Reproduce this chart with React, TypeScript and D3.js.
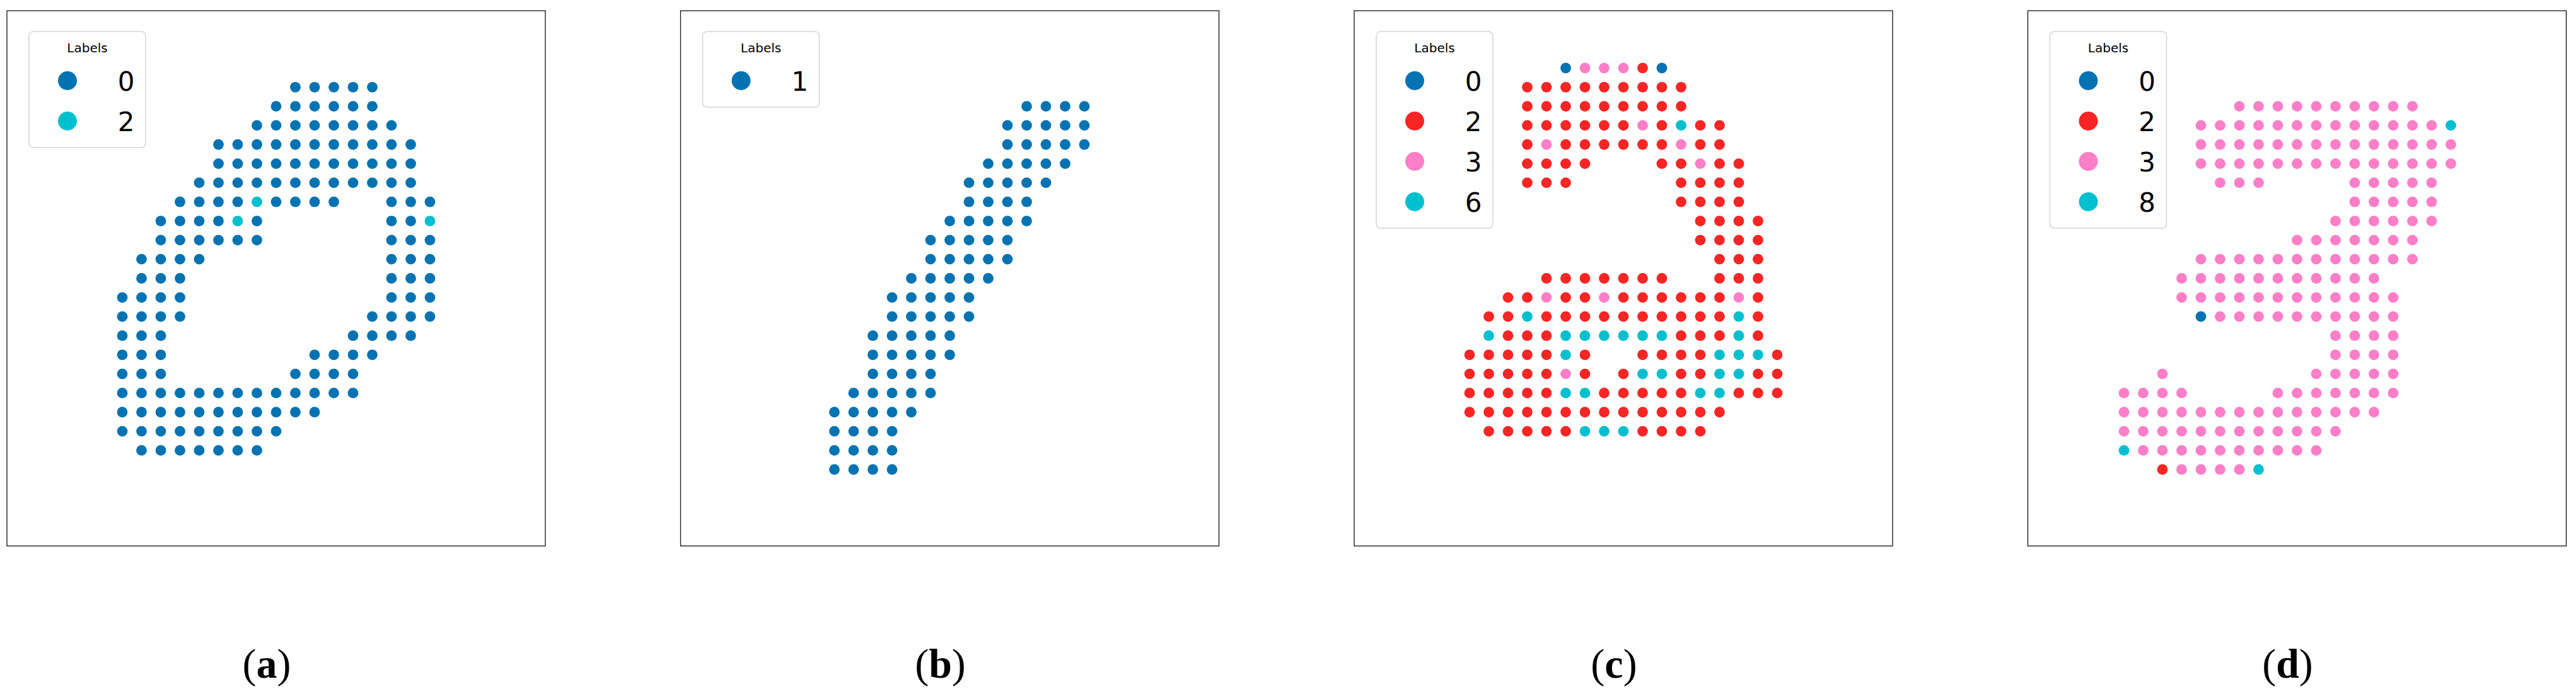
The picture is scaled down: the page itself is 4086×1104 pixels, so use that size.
import React from "react";
import * as d3 from "d3";

// each run: [row, firstCol, lastCol, label] on the 28x28 pixel grid
const runsA = [
  [4, 15, 19, 0], [5, 14, 19, 0], [6, 13, 20, 0], [7, 11, 21, 0], [8, 11, 21, 0], [9, 10, 21, 0],
  [10, 9, 12, 0], [10, 13, 13, 2], [10, 14, 17, 0], [10, 20, 22, 0],
  [11, 8, 11, 0], [11, 12, 12, 2], [11, 13, 13, 0], [11, 20, 21, 0], [11, 22, 22, 2],
  [12, 8, 13, 0], [12, 20, 22, 0],
  [13, 7, 10, 0], [13, 20, 22, 0],
  [14, 7, 9, 0], [14, 20, 22, 0],
  [15, 6, 9, 0], [15, 20, 22, 0],
  [16, 6, 9, 0], [16, 19, 22, 0],
  [17, 6, 8, 0], [17, 18, 21, 0],
  [18, 6, 8, 0], [18, 16, 19, 0],
  [19, 6, 8, 0], [19, 15, 18, 0],
  [20, 6, 18, 0], [21, 6, 16, 0], [22, 6, 14, 0], [23, 7, 13, 0],
];

const runsB = [
  [5, 18, 21, 1], [6, 17, 21, 1], [7, 17, 21, 1], [8, 16, 20, 1], [9, 15, 19, 1],
  [10, 15, 18, 1], [11, 14, 18, 1], [12, 13, 17, 1], [13, 13, 17, 1], [14, 12, 16, 1],
  [15, 11, 15, 1], [16, 11, 15, 1], [17, 10, 14, 1], [18, 10, 14, 1], [19, 10, 13, 1],
  [20, 9, 13, 1], [21, 8, 12, 1], [22, 8, 11, 1], [23, 8, 11, 1], [24, 8, 11, 1],
];

const runsC = [
  [3, 11, 11, 0], [3, 12, 14, 3], [3, 15, 15, 2], [3, 16, 16, 0],
  [4, 9, 17, 2], [5, 9, 17, 2],
  [6, 9, 14, 2], [6, 15, 15, 3], [6, 16, 16, 2], [6, 17, 17, 6], [6, 18, 19, 2],
  [7, 9, 9, 2], [7, 10, 10, 3], [7, 11, 16, 2], [7, 17, 17, 3], [7, 18, 19, 2],
  [8, 9, 12, 2], [8, 16, 17, 2], [8, 18, 18, 3], [8, 19, 20, 2],
  [9, 9, 11, 2], [9, 17, 20, 2],
  [10, 17, 20, 2], [11, 18, 21, 2], [12, 18, 21, 2], [13, 19, 21, 2],
  [14, 10, 16, 2], [14, 19, 21, 2],
  [15, 8, 9, 2], [15, 10, 10, 3], [15, 11, 12, 2], [15, 13, 13, 3], [15, 14, 19, 2], [15, 20, 20, 3], [15, 21, 21, 2],
  [16, 7, 8, 2], [16, 9, 9, 6], [16, 10, 19, 2], [16, 20, 20, 6], [16, 21, 21, 2],
  [17, 7, 7, 6], [17, 8, 10, 2], [17, 11, 16, 6], [17, 17, 19, 2], [17, 20, 20, 6], [17, 21, 21, 2],
  [18, 6, 10, 2], [18, 11, 11, 6], [18, 12, 12, 2], [18, 15, 18, 2], [18, 19, 21, 6], [18, 22, 22, 2],
  [19, 6, 10, 2], [19, 11, 11, 3], [19, 12, 12, 2], [19, 14, 14, 2], [19, 15, 16, 6], [19, 17, 18, 2], [19, 19, 20, 6], [19, 21, 22, 2],
  [20, 6, 10, 2], [20, 11, 12, 6], [20, 13, 17, 2], [20, 18, 19, 6], [20, 20, 22, 2],
  [21, 6, 19, 2],
  [22, 7, 11, 2], [22, 12, 14, 6], [22, 15, 18, 2],
];

const runsD = [
  [5, 11, 20, 3],
  [6, 9, 21, 3], [6, 22, 22, 8],
  [7, 9, 22, 3], [8, 9, 22, 3],
  [9, 10, 12, 3], [9, 17, 21, 3],
  [10, 17, 21, 3], [11, 16, 21, 3], [12, 14, 20, 3], [13, 9, 20, 3],
  [14, 8, 18, 3], [15, 8, 19, 3],
  [16, 9, 9, 0], [16, 10, 19, 3],
  [17, 16, 19, 3], [18, 16, 19, 3],
  [19, 7, 7, 3], [19, 15, 19, 3],
  [20, 5, 8, 3], [20, 13, 19, 3],
  [21, 5, 18, 3], [22, 5, 16, 3],
  [23, 5, 5, 8], [23, 6, 15, 3],
  [24, 7, 7, 2], [24, 8, 11, 3], [24, 12, 12, 8],
];

const BLUE = "#0173b2";
const RED = "#f82525";
const PINK = "#ff7ec8";
const CYAN = "#00bfcf";

const legendA = [["0", BLUE], ["2", CYAN]];
const legendB = [["1", BLUE]];
const legendC = [["0", BLUE], ["2", RED], ["3", PINK], ["6", CYAN]];
const legendD = [["0", BLUE], ["2", RED], ["3", PINK], ["8", CYAN]];

const captions = ["a", "b", "c", "d"];

const panels = [
  { runs: runsA, legend: legendA },
  { runs: runsB, legend: legendB },
  { runs: runsC, legend: legendC },
  { runs: runsD, legend: legendD },
];

const W = 4086;
const H = 1104;
const frameW = 854;
const frameH = 849;
const frameTop = 17;
const step = 1068.5;
const firstLeft = 11;

function Panel({ runs, legend, left, caption }) {
  const x = d3.scaleLinear().domain([0, 28]).range([left, left + frameW]);
  const y = d3.scaleLinear().domain([0, 28]).range([frameTop, frameTop + frameH]);
  const color = new Map(legend.map(([k, c]) => [k, c]));

  const points = [];
  runs.forEach(([r, c0, c1, lab]) => {
    for (let c = c0; c <= c1; c++) points.push({ r, c, lab: String(lab) });
  });

  const lx = left + 35;
  const ly = 50;
  const lh = 56 + 64 * legend.length;
  const cx = left + frameW / 2 - 15;

  return (
    <g>
      <rect x={left} y={frameTop} width={frameW} height={frameH} fill="none" stroke="#111" strokeWidth={1.3} />
      {points.map((p, i) => (
        <circle key={i} cx={x(p.c)} cy={y(p.r)} r={8.4} fill={color.get(p.lab)} />
      ))}
      <rect x={lx} y={ly} width={185} height={lh} rx={7} fill="#fff" fillOpacity={0.8} stroke="#d6d6d6" strokeWidth={1.6} />
      <text x={lx + 92.5} y={ly + 33} textAnchor="middle" fontFamily="DejaVu Sans" fontSize={20}>
        Labels
      </text>
      {legend.map(([k, c], i) => (
        <g key={k}>
          <circle cx={lx + 61} cy={ly + 78 + 64 * i} r={15} fill={c} />
          <text x={lx + 154} y={ly + 78 + 64 * i + 15.5} textAnchor="middle" fontFamily="DejaVu Sans" fontSize={42}>
            {k}
          </text>
        </g>
      ))}
      <text x={cx} y={1075} textAnchor="middle" fontFamily="Liberation Serif" fontSize={66}>
        (<tspan fontWeight="bold">{caption}</tspan>)
      </text>
    </g>
  );
}

export default function App() {
  return (
    <div style={{ position: "absolute", left: 0, top: 0, width: W, height: H, background: "#fff" }}>
      <svg width={W} height={H} viewBox={`0 0 ${W} ${H}`}>
        <rect width={W} height={H} fill="#fff" />
        {panels.map((p, i) => (
          <Panel key={i} runs={p.runs} legend={p.legend} left={firstLeft + i * step} caption={captions[i]} />
        ))}
      </svg>
    </div>
  );
}
